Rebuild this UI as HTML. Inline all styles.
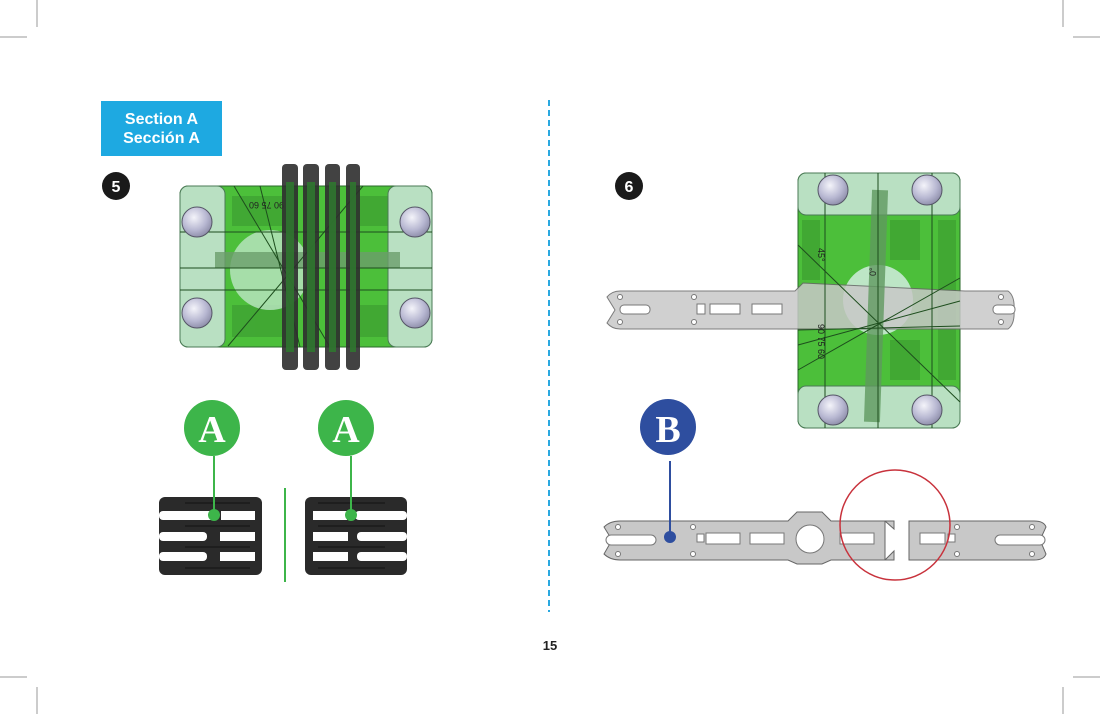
<!DOCTYPE html>
<html><head><meta charset="utf-8"><style>
html,body{margin:0;padding:0;background:#fff;}
svg{display:block;}
</style></head><body>
<svg width="1100" height="714" viewBox="0 0 1100 714" xmlns="http://www.w3.org/2000/svg" font-family="Liberation Sans, sans-serif">
<defs>
<radialGradient id="ball" cx="0.4" cy="0.35" r="0.7"><stop offset="0" stop-color="#f4f4fa"/><stop offset="0.6" stop-color="#b8b8d2"/><stop offset="1" stop-color="#8a8aa6"/></radialGradient>
</defs>
<g stroke="#999" stroke-width="1">
<line x1="37" y1="0" x2="37" y2="27"/><line x1="0" y1="37" x2="27" y2="37"/>
<line x1="1063" y1="0" x2="1063" y2="27"/><line x1="1073" y1="37" x2="1100" y2="37"/>
<line x1="0" y1="677" x2="27" y2="677"/><line x1="37" y1="687" x2="37" y2="714"/>
<line x1="1073" y1="677" x2="1100" y2="677"/><line x1="1063" y1="687" x2="1063" y2="714"/>
</g>
<rect x="101" y="101" width="121" height="55" fill="#1ea9e1"/>
<text x="161.5" y="124" fill="#fff" font-size="16" font-weight="bold" text-anchor="middle">Section A</text>
<text x="161.5" y="143" fill="#fff" font-size="16" font-weight="bold" text-anchor="middle">Sección A</text>
<circle cx="116" cy="186" r="14" fill="#1a1a1a"/><text x="116" y="192" fill="#fff" font-size="16" font-weight="bold" text-anchor="middle">5</text>
<circle cx="629" cy="186" r="14" fill="#1a1a1a"/><text x="629" y="192" fill="#fff" font-size="16" font-weight="bold" text-anchor="middle">6</text>
<line x1="549" y1="100" x2="549" y2="612" stroke="#29a8e0" stroke-width="2" stroke-dasharray="6,4"/>
<text x="550" y="650" font-size="13" font-weight="bold" text-anchor="middle" fill="#222">15</text>

<!-- STEP 5 -->
<rect x="180" y="186" width="252" height="161" rx="8" fill="#4cbf3a" stroke="#2a6a2a"/>
<g fill="#3a9a30" opacity="0.6"><rect x="232" y="196" width="50" height="30"/><rect x="232" y="305" width="50" height="32"/><rect x="360" y="196" width="30" height="30"/><rect x="360" y="305" width="30" height="32"/></g>
<rect x="180" y="186" width="45" height="161" rx="8" fill="#b9e0c2" stroke="#4a7a55"/>
<rect x="388" y="186" width="44" height="161" rx="8" fill="#b9e0c2" stroke="#4a7a55"/>
<circle cx="270" cy="270" r="40" fill="#bde6c6" opacity="0.8"/>
<rect x="215" y="252" width="185" height="16" fill="#6b9e6b" opacity="0.8"/>
<g stroke="#1d4d1d" stroke-width="1" fill="none">
<line x1="180" y1="232" x2="432" y2="232"/><line x1="180" y1="268" x2="432" y2="268"/><line x1="180" y1="290" x2="432" y2="290"/>
<line x1="228" y1="346" x2="363" y2="186"/><line x1="234" y1="186" x2="330" y2="347"/><line x1="260" y1="186" x2="300" y2="347"/>
</g>
<g fill="url(#ball)" stroke="#556"><circle cx="197" cy="222" r="15"/><circle cx="197" cy="313" r="15"/><circle cx="415" cy="222" r="15"/><circle cx="415" cy="313" r="15"/></g>
<text x="252" y="210" font-size="9" fill="#222" transform="rotate(180 268 206)">90 75 60</text>
<g fill="#2e2e2e" opacity="0.9">
<rect x="282" y="164" width="16" height="206" rx="4"/><rect x="303" y="164" width="16" height="206" rx="4"/>
<rect x="325" y="164" width="15" height="206" rx="4"/><rect x="346" y="164" width="14" height="206" rx="4"/>
</g>
<g fill="#2f7a2f" opacity="0.85">
<rect x="286" y="182" width="8" height="170"/><rect x="307" y="182" width="8" height="170"/><rect x="329" y="182" width="7" height="170"/><rect x="350" y="182" width="6" height="170"/>
</g>
<circle cx="212" cy="428" r="28" fill="#3db54a"/><text x="212" y="442" fill="#fff" font-size="38" font-weight="bold" font-family="Liberation Serif, serif" text-anchor="middle">A</text>
<circle cx="346" cy="428" r="28" fill="#3db54a"/><text x="346" y="442" fill="#fff" font-size="38" font-weight="bold" font-family="Liberation Serif, serif" text-anchor="middle">A</text>
<rect x="159" y="497" width="103" height="78" rx="6" fill="#2a2a2a"/>
<rect x="305" y="497" width="102" height="78" rx="6" fill="#2a2a2a"/>
<g fill="#fff">
<rect x="159" y="511" width="55" height="9" rx="4"/><rect x="221" y="511" width="34" height="9"/>
<rect x="159" y="532" width="48" height="9" rx="4"/><rect x="220" y="532" width="35" height="9"/>
<rect x="159" y="552" width="48" height="9" rx="4"/><rect x="220" y="552" width="35" height="9"/>
<rect x="313" y="511" width="34" height="9"/><rect x="355" y="511" width="52" height="9" rx="4"/>
<rect x="313" y="532" width="35" height="9"/><rect x="357" y="532" width="50" height="9" rx="4"/>
<rect x="313" y="552" width="35" height="9"/><rect x="357" y="552" width="50" height="9" rx="4"/>
</g>
<g stroke="#111" stroke-width="1"><line x1="185" y1="503" x2="250" y2="503"/><line x1="185" y1="526" x2="250" y2="526"/><line x1="185" y1="547" x2="250" y2="547"/><line x1="185" y1="568" x2="250" y2="568"/>
<line x1="318" y1="503" x2="385" y2="503"/><line x1="318" y1="526" x2="385" y2="526"/><line x1="318" y1="547" x2="385" y2="547"/><line x1="318" y1="568" x2="385" y2="568"/></g>
<g stroke="#3db54a" stroke-width="2"><line x1="214" y1="456" x2="214" y2="515"/><line x1="351" y1="456" x2="351" y2="515"/><line x1="285" y1="488" x2="285" y2="582"/></g>
<circle cx="214" cy="515" r="6" fill="#3db54a"/><circle cx="351" cy="515" r="6" fill="#3db54a"/>

<!-- STEP 6 -->
<rect x="798" y="173" width="162" height="255" rx="8" fill="#4cbf3a" stroke="#2a6a2a"/>
<g fill="#3a9a30" opacity="0.6"><rect x="938" y="220" width="18" height="160"/><rect x="802" y="220" width="18" height="60"/><rect x="890" y="220" width="30" height="40"/><rect x="890" y="340" width="30" height="40"/></g>
<rect x="798" y="173" width="162" height="42" rx="8" fill="#b9e0c2" stroke="#4a7a55"/>
<rect x="798" y="386" width="162" height="42" rx="8" fill="#b9e0c2" stroke="#4a7a55"/>
<circle cx="878" cy="300" r="35" fill="#bde6c6"/>
<path d="M607 297 Q612 291 620 291 L795 291 L803 283 L965 291 L1008 291 Q1015 296 1014 310 Q1015 324 1008 329 L620 329 Q612 329 607 323 L615 310 Z" fill="#c8c8c8" stroke="#666" opacity="0.85"/>
<g fill="#fff" stroke="#777"><rect x="710" y="304" width="30" height="10"/><rect x="752" y="304" width="30" height="10"/><rect x="697" y="304" width="8" height="10"/><rect x="993" y="305" width="22" height="9" rx="4"/><rect x="620" y="305" width="30" height="9" rx="4"/>
<circle cx="620" cy="297" r="2.5"/><circle cx="620" cy="322" r="2.5"/><circle cx="694" cy="297" r="2.5"/><circle cx="694" cy="322" r="2.5"/><circle cx="1001" cy="297" r="2.5"/><circle cx="1001" cy="322" r="2.5"/></g>
<rect x="868" y="190" width="16" height="232" fill="#5f995f" opacity="0.8" transform="rotate(2 876 306)"/>
<g stroke="#1d4d1d" stroke-width="1" fill="none">
<line x1="825" y1="173" x2="825" y2="428"/><line x1="878" y1="173" x2="878" y2="428"/><line x1="932" y1="173" x2="932" y2="428"/>
<line x1="798" y1="245" x2="960" y2="402"/><line x1="798" y1="370" x2="960" y2="278"/><line x1="798" y1="345" x2="960" y2="301"/><line x1="798" y1="330" x2="960" y2="326"/>
</g>
<g fill="url(#ball)" stroke="#556"><circle cx="833" cy="190" r="15"/><circle cx="927" cy="190" r="15"/><circle cx="833" cy="410" r="15"/><circle cx="927" cy="410" r="15"/></g>
<text x="812" y="330" font-size="9" fill="#222" transform="rotate(90 818 330)">90 75 60</text>
<text x="814" y="252" font-size="9" fill="#222" transform="rotate(90 818 252)">45°</text>
<text x="872" y="272" font-size="9" fill="#222" transform="rotate(-90 876 272)">0°</text>
<circle cx="668" cy="427" r="28" fill="#2e4e9f"/><text x="668" y="442" fill="#fff" font-size="38" font-weight="bold" font-family="Liberation Serif, serif" text-anchor="middle">B</text>
<path d="M604 527 Q610 521 620 521 L788 521 L797 512 L822 512 L831 521 L885 521 L885 560 L831 560 L822 564 L797 564 L788 560 L620 560 Q610 560 604 554 L612 540 Z" fill="#c8c8c8" stroke="#666"/>
<path d="M909 521 L1034 521 Q1044 521 1046 527 L1040 540 L1046 554 Q1044 560 1034 560 L909 560 Z" fill="#c8c8c8" stroke="#666"/>
<g fill="#fff" stroke="#777"><rect x="606" y="535" width="50" height="10" rx="5"/><rect x="706" y="533" width="34" height="11"/><rect x="750" y="533" width="34" height="11"/><rect x="840" y="533" width="34" height="11"/><rect x="920" y="533" width="25" height="11"/><rect x="995" y="535" width="50" height="10" rx="5"/><circle cx="810" cy="539" r="14"/>
<circle cx="618" cy="527" r="2.5"/><circle cx="618" cy="554" r="2.5"/><circle cx="693" cy="527" r="2.5"/><circle cx="693" cy="554" r="2.5"/><circle cx="957" cy="527" r="2.5"/><circle cx="957" cy="554" r="2.5"/><circle cx="1032" cy="527" r="2.5"/><circle cx="1032" cy="554" r="2.5"/><rect x="697" y="534" width="7" height="8"/><rect x="948" y="534" width="7" height="8"/></g>
<path d="M885 521 L894 521 L894 529 Z M885 560 L894 551 L894 560 Z" fill="#c8c8c8" stroke="#666"/>
<line x1="670" y1="461" x2="670" y2="537" stroke="#2e4e9f" stroke-width="2"/>
<circle cx="670" cy="537" r="6" fill="#2e4e9f"/>
<circle cx="895" cy="525" r="55" fill="none" stroke="#c8323c" stroke-width="1.5"/>
</svg>
</body></html>
